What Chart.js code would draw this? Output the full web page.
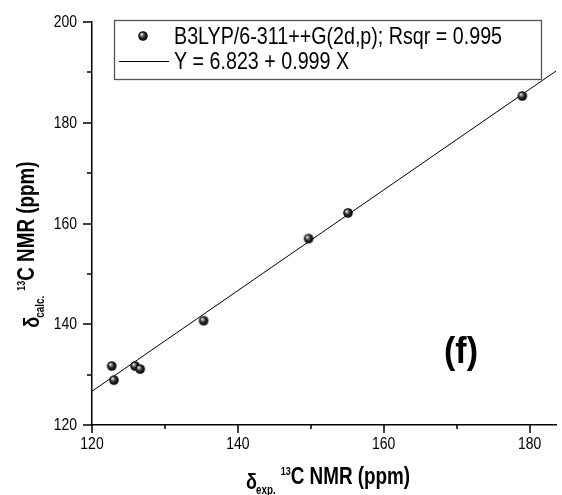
<!DOCTYPE html>
<html>
<head>
<meta charset="utf-8">
<script src="https://cdn.jsdelivr.net/npm/chart.js@4.4.1/dist/chart.umd.min.js"></script>
<style>
html,body{margin:0;padding:0;background:#fff}
canvas{display:block}
</style>
</head>
<body>
<canvas id="nmrChart" width="562" height="495"></canvas>
<script>
// experimental vs calculated 13C shifts (ppm)
const expShift = [122.7, 123.0, 125.9, 126.6, 135.3, 149.7, 155.1, 179.0]
const calcShift = [131.7, 128.9, 131.7, 131.1, 140.7, 157.0, 162.1, 185.3]

// linear fit from the legend
const fitIntercept = 6.823
const fitSlope = 0.999
const fitEnds = [120, 183.65]

const xTicks = [120, 130, 140, 150, 160, 170, 180]
const yTicks = [120, 130, 140, 150, 160, 170, 180, 190, 200]
const xRange = [120, 183.65]
const yRange = [120, 200]

const pointLabel = "B3LYP/6-311++G(2d,p); Rsqr = 0.995"
const fitLabel = "Y = 6.823 + 0.999 X"
const panelLabel = "(f)"

const FONT = "'Liberation Sans', Arial, sans-serif"
const NARROW = 0.82   // the original uses a narrow face, squeeze the text instead

function squeezed(ctx, text, x, y, sx){
ctx.save()
ctx.translate(x, y)
ctx.scale(sx, 1)
ctx.fillText(text, 0, 0)
ctx.restore()
}

function ballImage(r){
const s = Math.ceil(r*2)+2
const c = document.createElement("canvas")
c.width = s
c.height = s
const g = c.getContext("2d")
const m = s/2
const grad = g.createRadialGradient(m-r*0.35, m-r*0.4, 0.2, m, m, r)
grad.addColorStop(0, "#ffffff")
grad.addColorStop(0.22, "#9a9a9a")
grad.addColorStop(0.55, "#2a2a2a")
grad.addColorStop(1, "#000000")
g.fillStyle = grad
g.beginPath()
g.arc(m, m, r, 0, Math.PI*2)
g.fill()
return c
}

const ball = ballImage(4.8)

// outward tick marks and narrow tick labels, placed by the chart scales
const tickMarks = {
id:"tickMarks",
afterDraw(chart){
const ctx = chart.ctx
const a = chart.chartArea
const xs = chart.scales.x
const ys = chart.scales.y
ctx.save()
ctx.strokeStyle = "#000"
ctx.lineWidth = 1.5
ctx.beginPath()
xs.ticks.forEach(t=>{
const px = Math.round(xs.getPixelForValue(t.value))
const len = t.value % 20 === 0 ? 8 : 4
ctx.moveTo(px, a.bottom)
ctx.lineTo(px, a.bottom+len)
})
ys.ticks.forEach(t=>{
const py = Math.round(ys.getPixelForValue(t.value))
const len = t.value % 20 === 0 ? 9 : 5
ctx.moveTo(a.left, py)
ctx.lineTo(a.left-len, py)
})
ctx.stroke()

ctx.fillStyle = "#000"
ctx.font = "17px " + FONT
ctx.textAlign = "center"
ctx.textBaseline = "alphabetic"
xs.ticks.forEach(t=>{
if(t.value % 20 !== 0) return
squeezed(ctx, String(t.value), xs.getPixelForValue(t.value), a.bottom+24, NARROW)
})
ctx.textAlign = "right"
ys.ticks.forEach(t=>{
if(t.value % 20 !== 0) return
squeezed(ctx, String(t.value), a.left-15, ys.getPixelForValue(t.value)+5, NARROW)
})
ctx.restore()
}
}

// boxed legend like the original figure
const legendBox = {
id:"legendBox",
afterDraw(chart){
const ctx = chart.ctx
const a = chart.chartArea
const x0 = a.left+22
const y0 = a.top-2
ctx.save()
ctx.strokeStyle = "#555"
ctx.lineWidth = 1.3
ctx.strokeRect(x0+0.5, y0+0.5, 427, 59)
ctx.drawImage(ball, x0+29-ball.width/2, y0+16-ball.height/2)
ctx.strokeStyle = "#000"
ctx.lineWidth = 1
ctx.beginPath()
ctx.moveTo(x0+5, y0+41.5)
ctx.lineTo(x0+55, y0+41.5)
ctx.stroke()
ctx.fillStyle = "#000"
ctx.font = "24px " + FONT
ctx.textBaseline = "alphabetic"
squeezed(ctx, chart.data.datasets[0].label, x0+60, y0+24, NARROW)
squeezed(ctx, chart.data.datasets[1].label, x0+60, y0+48.5, NARROW)
ctx.font = "bold 37px " + FONT
squeezed(ctx, panelLabel, 444, 363, 0.92)
ctx.restore()
}
}

// axis titles with sub and superscripts
function drawPieces(ctx, pieces, cx, baseline){
let w = 0
pieces.forEach(p=>{ ctx.font = p.font; p.w = ctx.measureText(p.text).width*NARROW; w += p.w + (p.gap||0) })
let x = cx - w/2
pieces.forEach(p=>{
x += p.gap||0
ctx.font = p.font
squeezed(ctx, p.text, x, baseline + p.dy, NARROW)
x += p.w
})
}

function titlePieces(sub){
return [
{text:"\u03b4", font:"bold 22px "+FONT, dy:5},
{text:sub, font:"bold 12px "+FONT, dy:10, gap:-1},
{text:"13", font:"bold 11px "+FONT, dy:-9, gap:5},
{text:"C NMR (ppm)", font:"bold 23px "+FONT, dy:0, gap:0}
]
}

const axisTitles = {
id:"axisTitles",
afterDraw(chart){
const ctx = chart.ctx
const a = chart.chartArea
ctx.save()
ctx.fillStyle = "#000"
ctx.textBaseline = "alphabetic"
ctx.textAlign = "left"
drawPieces(ctx, titlePieces("exp."), (a.left+a.right)/2+4, 484)
ctx.translate(34, (a.top+a.bottom)/2+21)
ctx.rotate(-Math.PI/2)
drawPieces(ctx, titlePieces("calc."), 0, 0)
ctx.restore()
}
}

const nmr = document.getElementById("nmrChart")

new Chart(nmr,{

type:"scatter",

data:{
datasets:[{
label:pointLabel,
data:expShift.map((x,i)=>({x:x, y:calcShift[i]})),
pointStyle:ball,
pointRadius:4.8,
order:0
},{
type:"line",
label:fitLabel,
data:fitEnds.map(x=>({x:x, y:fitIntercept + fitSlope*x})),
borderColor:"#000",
borderWidth:1,
pointRadius:0,
fill:false,
order:1
}]
},

options:{
responsive:false,
animation:false,
events:[],
layout:{padding:{top:22, right:0, bottom:0, left:0}},
plugins:{
legend:{display:false},
tooltip:{enabled:false}
},
scales:{
x:{
type:"linear",
min:xRange[0],
max:xRange[1],
afterBuildTicks(s){ s.ticks = xTicks.map(v=>({value:v})) },
afterFit(s){ s.height = 70 },
grid:{display:false, drawTicks:false},
border:{display:true, color:"#000", width:1.5},
ticks:{display:false}
},
y:{
type:"linear",
min:yRange[0],
max:yRange[1],
afterBuildTicks(s){ s.ticks = yTicks.map(v=>({value:v})) },
afterFit(s){ s.width = 92 },
grid:{display:false, drawTicks:false},
border:{display:true, color:"#000", width:1.5},
ticks:{display:false}
}
}
},

plugins:[tickMarks, legendBox, axisTitles]

})
</script>
</body>
</html>
